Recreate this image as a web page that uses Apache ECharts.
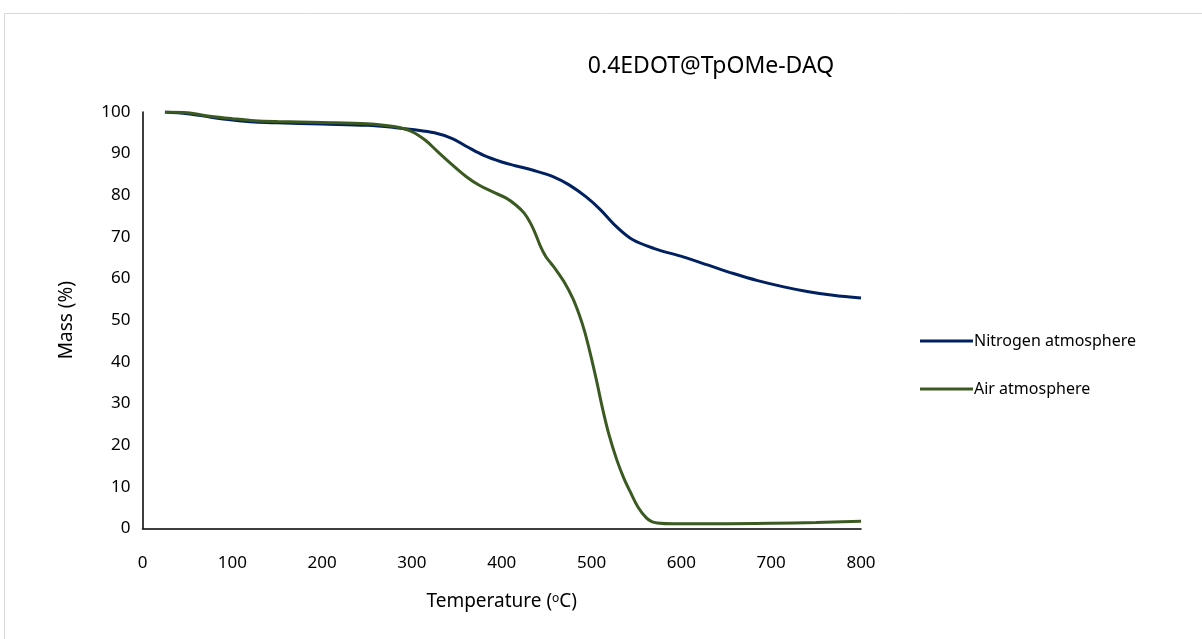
<!DOCTYPE html>
<html>
<head>
<meta charset="utf-8">
<script src="https://cdn.jsdelivr.net/npm/echarts@6/dist/echarts.min.js"></script>
<style>
html,body{margin:0;padding:0;background:#fff;}
#chart{width:1202px;height:639px;}
</style>
</head>
<body>
<div id="chart"></div>
<script>
const titleText = '0.4EDOT@TpOMe-DAQ';
const seriesNames = ['Nitrogen atmosphere', 'Air atmosphere'];
const xTicks = [0, 100, 200, 300, 400, 500, 600, 700, 800];
const yTicks = [0, 10, 20, 30, 40, 50, 60, 70, 80, 90, 100];

const nitrogenT = [25, 50, 75, 100, 125, 150, 200, 250, 280, 300, 325, 345, 362, 380, 400, 415, 435, 457, 475, 494, 510, 528, 546, 570, 602, 630, 658, 685, 714, 740, 769, 800];
const nitrogenM = [100, 99.6, 98.8, 98.1, 97.6, 97.4, 97.1, 96.8, 96.3, 95.8, 95.0, 93.6, 91.6, 89.6, 88, 87.1, 86, 84.5, 82.5, 79.6, 76.5, 72.4, 69.3, 67.2, 65.2, 63.2, 61.2, 59.5, 58, 56.9, 56, 55.3];

const airT = [25, 50, 75, 100, 125, 150, 200, 250, 280, 300, 315, 328, 345, 361, 375, 390, 405, 416, 425, 432, 438, 443, 449, 455, 461, 470, 479, 486, 492, 498, 505, 512, 519, 528, 536, 543, 552, 561, 567, 573, 590, 650, 700, 750, 800];
const airM = [100, 99.8, 99, 98.4, 97.9, 97.7, 97.5, 97.2, 96.5, 95.3, 93.2, 90.6, 87.3, 84.4, 82.4, 80.8, 79.3, 77.6, 75.7, 73.3, 70.5, 67.8, 65.3, 63.6, 61.9, 59, 55.3, 51.5, 47.5, 42.5, 36, 29, 22.8, 16.5, 12, 8.8, 5.0, 2.5, 1.6, 1.3, 1.1, 1.1, 1.2, 1.4, 1.7];

const pair = (xs, ys) => xs.map((x, i) => [x, ys[i]]);
const font = '"Noto Sans", "Open Sans", sans-serif';
const colors = ['#002060', '#3B5A22'];

const chart = echarts.init(document.getElementById('chart'));
chart.setOption({
  animation: false,
  backgroundColor: '#fff',
  graphic: [{
    type: 'rect',
    shape: {x: 4.5, y: 13.5, width: 1300, height: 700},
    style: {fill: 'none', stroke: '#d9d9d9', lineWidth: 1},
    silent: true
  }],
  title: {
    text: titleText,
    left: 706, top: 50,
    textAlign: 'center',
    textStyle: {fontFamily: font, fontSize: 23, fontWeight: 'normal', color: '#000'}
  },
  legend: {
    orient: 'vertical',
    left: 915, top: 328,
    itemWidth: 53, itemHeight: 3, itemGap: 32,
    icon: 'rect',
    textStyle: {fontFamily: font, fontSize: 16, color: '#000', padding: [0,0,0,-4]},
    data: seriesNames
  },
  grid: {left: 142.5, right: 341, top: 112, bottom: 110.7, containLabel: false},
  xAxis: {
    type: 'value', min: 0, max: 800, interval: 100,
    axisLine: {show: true, lineStyle: {color: '#000', width: 1.5}},
    axisTick: {show: false},
    splitLine: {show: false},
    axisLabel: {fontFamily: font, fontSize: 17, color: '#000', margin: 26,
      formatter: v => xTicks.includes(v) ? String(v) : ''},
    name: '{a|Temperature (}{s|o}{a|C)}',
    nameLocation: 'middle', nameGap: 64,
    nameTextStyle: {rich: {
      a: {fontFamily: font, fontSize: 19, color: '#000'},
      s: {fontFamily: font, fontSize: 12, color: '#000', verticalAlign: 'top', padding: [0,0,7,0]}
    }}
  },
  yAxis: {
    type: 'value', min: 0, max: 100, interval: 10,
    axisLine: {show: true, lineStyle: {color: '#000', width: 1.5}},
    axisTick: {show: false},
    splitLine: {show: false},
    axisLabel: {fontFamily: font, fontSize: 17, color: '#000', margin: 12,
      formatter: v => yTicks.includes(v) ? String(v) : ''},
    name: 'Mass (%)',
    nameLocation: 'middle', nameGap: 66, nameRotate: 90,
    nameTextStyle: {fontFamily: font, fontSize: 19, color: '#000'}
  },
  series: [
    {name: seriesNames[0], type: 'line', data: pair(nitrogenT, nitrogenM), smooth: 0.35,
     showSymbol: false, symbol: 'none', lineStyle: {color: colors[0], width: 3}, itemStyle: {color: colors[0]}, z: 2},
    {name: seriesNames[1], type: 'line', data: pair(airT, airM), smooth: 0.35,
     showSymbol: false, symbol: 'none', lineStyle: {color: colors[1], width: 3}, itemStyle: {color: colors[1]}, z: 3}
  ]
});
</script>
</body>
</html>
